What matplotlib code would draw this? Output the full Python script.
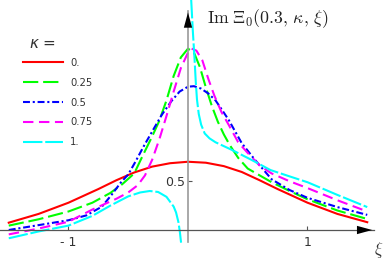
import matplotlib
matplotlib.use('Agg')
import matplotlib.pyplot as plt

plt.rcParams['lines.scale_dashes'] = False

# values, xi -> Im Xi_0(0.3, kappa, xi)
xi_red = [-1.5, -1.25, -1.0, -0.75, -0.6, -0.45, -0.3, -0.15, 0.0, 0.15, 0.3, 0.45, 0.6, 0.75, 1.0, 1.25, 1.5]
im_red = [0.075, 0.165, 0.28, 0.42, 0.51, 0.59, 0.65, 0.685, 0.70, 0.69, 0.655, 0.595, 0.51, 0.42, 0.28, 0.165, 0.08]

xi_green = [-1.5, -1.25, -1.0, -0.8, -0.65, -0.55, -0.45, -0.38, -0.3, -0.24, -0.18, -0.12, -0.06, 0.0,
            0.05, 0.10, 0.15, 0.20, 0.25, 0.30, 0.35, 0.42, 0.5, 0.6, 0.7, 0.85, 1.0, 1.25, 1.5]
im_green = [0.045, 0.11, 0.19, 0.28, 0.38, 0.47, 0.58, 0.76, 0.96, 1.12, 1.33, 1.58, 1.77, 1.86,
            1.82, 1.67, 1.46, 1.27, 1.11, 0.98, 0.87, 0.74, 0.63, 0.56, 0.49, 0.40, 0.315, 0.20, 0.113]

xi_blue = [-1.5, -1.25, -1.0, -0.85, -0.72, -0.64, -0.56, -0.5, -0.44, -0.37, -0.3, -0.22, -0.14, -0.07, 0.0,
           0.05, 0.11, 0.17, 0.23, 0.28, 0.34, 0.45, 0.56, 0.7, 0.85, 1.0, 1.25, 1.5]
im_blue = [0.0, 0.05, 0.10, 0.15, 0.24, 0.36, 0.49, 0.57, 0.70, 0.86, 1.01, 1.18, 1.32, 1.42, 1.47,
           1.475, 1.45, 1.40, 1.33, 1.24, 1.13, 0.89, 0.72, 0.52, 0.41, 0.33, 0.235, 0.155]

xi_magenta = [-1.5, -1.25, -1.0, -0.8, -0.6, -0.5, -0.42, -0.36, -0.3, -0.24, -0.18, -0.12, -0.06, 0.0,
              0.03, 0.07, 0.12, 0.17, 0.22, 0.28, 0.34, 0.42, 0.5, 0.6, 0.7, 0.85, 1.0, 1.25, 1.5]
im_magenta = [-0.045, 0.015, 0.085, 0.21, 0.32, 0.385, 0.46, 0.56, 0.72, 0.93, 1.17, 1.42, 1.66, 1.82,
              1.86, 1.84, 1.74, 1.55, 1.38, 1.21, 1.08, 0.90, 0.79, 0.66, 0.58, 0.50, 0.43, 0.305, 0.19]

# kappa = 1 has a pole near xi = 0, so two branches
xi_cyan_left = [-1.5, -1.25, -1.0, -0.8, -0.65, -0.5, -0.4, -0.32, -0.25, -0.18, -0.12, -0.1, -0.08, -0.068, -0.058]
im_cyan_left = [-0.085, -0.015, 0.045, 0.145, 0.25, 0.345, 0.385, 0.40, 0.39, 0.34, 0.24, 0.18, 0.08, -0.02, -0.13]
xi_cyan_right = [0.025, 0.04, 0.055, 0.065, 0.075, 0.09, 0.11, 0.14, 0.18, 0.23, 0.3, 0.37, 0.45, 0.53,
                 0.69, 0.85, 1.0, 1.25, 1.5]
im_cyan_right = [2.40, 2.05, 1.75, 1.52, 1.34, 1.19, 1.08, 0.99, 0.94, 0.90, 0.86, 0.82, 0.77, 0.72,
                 0.615, 0.55, 0.49, 0.36, 0.235]

kappa_labels = ['0.', '0.25', '0.5', '0.75', '1.']
colors = ['#ff0000', '#00ff00', '#0000ff', '#ff00ff', '#00ffff']
dashes = [None, (11, 3.5), (5, 2, 1.5, 2), (7.5, 4), (14, 2)]

fig = plt.figure(figsize=(3.83, 2.60), dpi=100)
ax = fig.add_axes([0, 0, 1, 1])

series = [(xi_red, im_red), (xi_green, im_green), (xi_blue, im_blue), (xi_magenta, im_magenta),
          (xi_cyan_right, im_cyan_right)]
handles = []
for (xs, ys), c, d, lab in zip(series, colors, dashes, kappa_labels):
    line, = ax.plot(xs, ys, color=c, lw=1.5, label=lab)
    if d is not None:
        line.set_dashes(d)
    handles.append(line)
cl, = ax.plot(xi_cyan_left, im_cyan_left, color=colors[4], lw=1.5)
cl.set_dashes(dashes[4])

ax.set_xlim(-1.5732, 1.6318)
ax.set_ylim(-0.3077, 2.359)

# axes through the origin, Mathematica style
for s in ['top', 'right']:
    ax.spines[s].set_visible(False)
ax.spines['left'].set_position(('data', 0))
ax.spines['bottom'].set_position(('data', 0))
ax.spines['left'].set_bounds(-0.123, 2.25)
ax.spines['bottom'].set_bounds(-1.58, 1.56)
ax.spines['left'].set_color('#999999')
ax.spines['bottom'].set_color('#555555')
ax.spines['left'].set_linewidth(1.2)
ax.spines['bottom'].set_linewidth(0.9)

ax.set_xticks([-1, 1])
ax.set_xticklabels(['- 1', '1'])
ax.set_yticks([0.5])
ax.set_yticklabels(['0.5'])
ax.tick_params(axis='both', direction='in', length=3, width=0.8, colors='#555555',
               labelsize=9, labelcolor='#333333')
ax.tick_params(axis='x', pad=4)
ax.tick_params(axis='y', pad=2)
ax.patch.set_visible(False)

arrow = dict(arrowstyle='-|>,head_length=1.1,head_width=0.3', color='black', lw=0, mutation_scale=10)
ax.annotate('', xy=(1.565, 0), xytext=(1.45, 0), arrowprops=arrow)
ax.annotate('', xy=(0, 2.26), xytext=(0, 2.1), arrowprops=arrow)

ax.text(0.540, 0.927, r'$\mathrm{Im}\;\Xi_0(0.3,\,\kappa,\,\xi)$', transform=ax.transAxes,
        ha='left', va='center', fontsize=12.8, math_fontfamily='cm', color='#222222')
ax.text(0.990, 0.038, r'$\xi$', transform=ax.transAxes, ha='center', va='center',
        fontsize=12, math_fontfamily='cm', color='#333333')
ax.text(0.0757, 0.831, r'$\kappa$ =', transform=ax.transAxes, ha='left', va='center',
        fontsize=11, color='#333333')

ax.legend(handles=handles, loc='upper left', bbox_to_anchor=(0.0593, 0.778), frameon=False,
          fontsize=7.2, handlelength=4.06, handletextpad=0.67, labelspacing=0.99,
          borderpad=0, borderaxespad=0, labelcolor='#333333')

fig.savefig('out.png', dpi=100)
